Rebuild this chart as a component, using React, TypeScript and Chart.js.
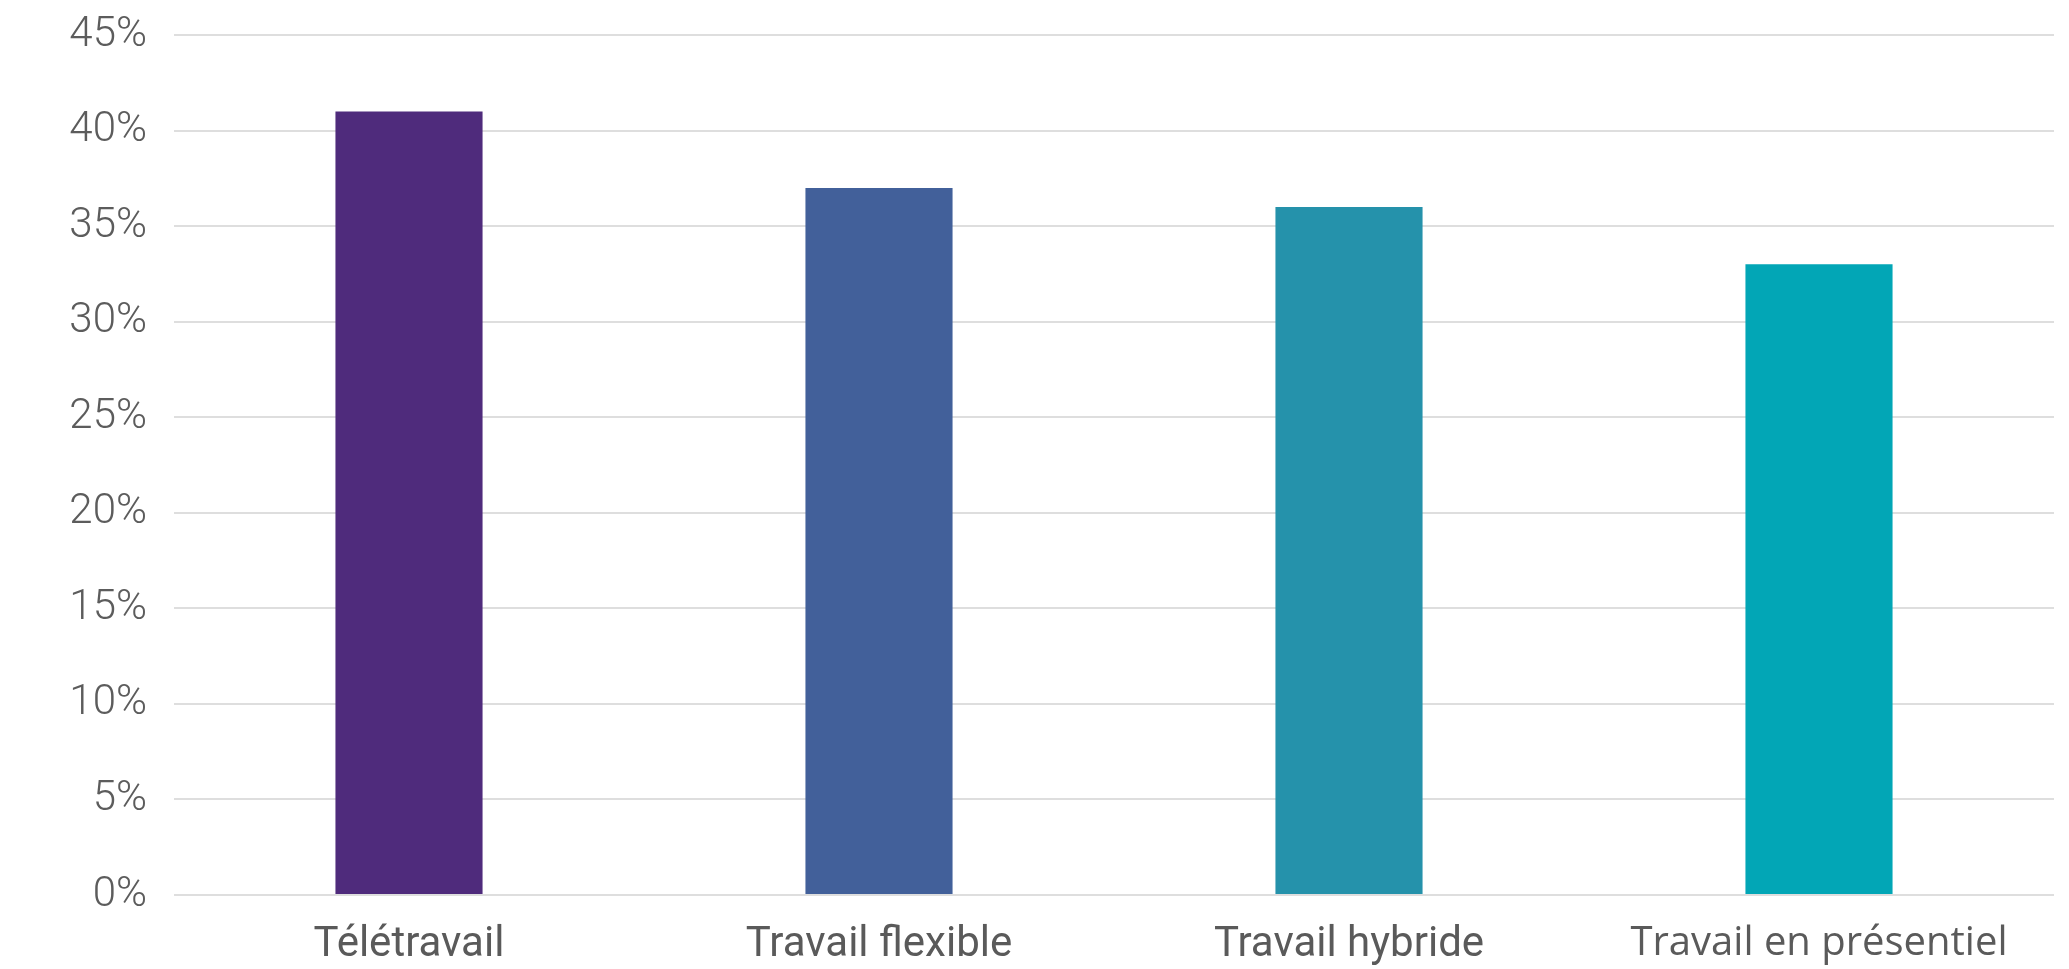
import React, { useEffect, useRef } from "react";
import { Chart, registerables } from "chart.js";

Chart.register(...registerables);

const categories = ["Télétravail", "Travail flexible", "Travail hybride", "Travail en présentiel"];
const values = [41, 37, 36, 33];
const barColors = ["#4f2b7c", "#42609a", "#2592ab", "#02a6b6"];
const yTicks = [0, 5, 10, 15, 20, 25, 30, 35, 40, 45];

export default function App() {
  const ref = useRef<HTMLCanvasElement | null>(null);
  useEffect(() => {
    document.body.style.margin = "0";
    const canvas = ref.current!;
    const chart = new Chart(canvas, {
      type: "bar",
      data: {
        labels: categories,
        datasets: [
          {
            data: values,
            backgroundColor: barColors,
            borderWidth: 0,
            barPercentage: 0.313,
            categoryPercentage: 1,
          },
        ],
      },
      options: {
        responsive: false,
        animation: false,
        layout: { padding: { top: 35, right: 15, left: 0, bottom: 0 } },
        plugins: { legend: { display: false }, tooltip: { enabled: false } },
        scales: {
          x: {
            grid: { display: false, drawTicks: false },
            border: { display: false },
            ticks: {
              color: "#5a5a5a",
              padding: 25,
              maxRotation: 0,
              autoSkip: false,
              font: (ctx: any) =>
                ctx.index === 3
                  ? { family: "'Open Sans', sans-serif", size: 40 }
                  : { family: "Roboto, sans-serif", size: 42, weight: "400" },
            },
            afterFit: (s: any) => {
              s.height = 74;
              s.paddingLeft = 0;
              s.paddingRight = 0;
            },
          },
          y: {
            min: 0,
            max: 45,
            afterBuildTicks: (s: any) => {
              s.ticks = yTicks.map((v) => ({ value: v }));
            },
            grid: { color: "#dedede", lineWidth: 2, drawTicks: false },
            border: { display: false },
            ticks: {
              color: "#5c5c5c",
              padding: 27,
              font: { family: "Roboto, sans-serif", size: 42, weight: "300" },
              callback: (v: any) => v + "%",
            },
            afterFit: (s: any) => {
              s.width = 174;
              s.paddingTop = 0;
              s.paddingBottom = 0;
            },
          },
        },
      },
    });
    return () => chart.destroy();
  }, []);
  return (
    <div style={{ position: "absolute", left: 0, top: 0 }}>
      <canvas ref={ref} width={2069} height={969} style={{ display: "block" }} />
    </div>
  );
}
